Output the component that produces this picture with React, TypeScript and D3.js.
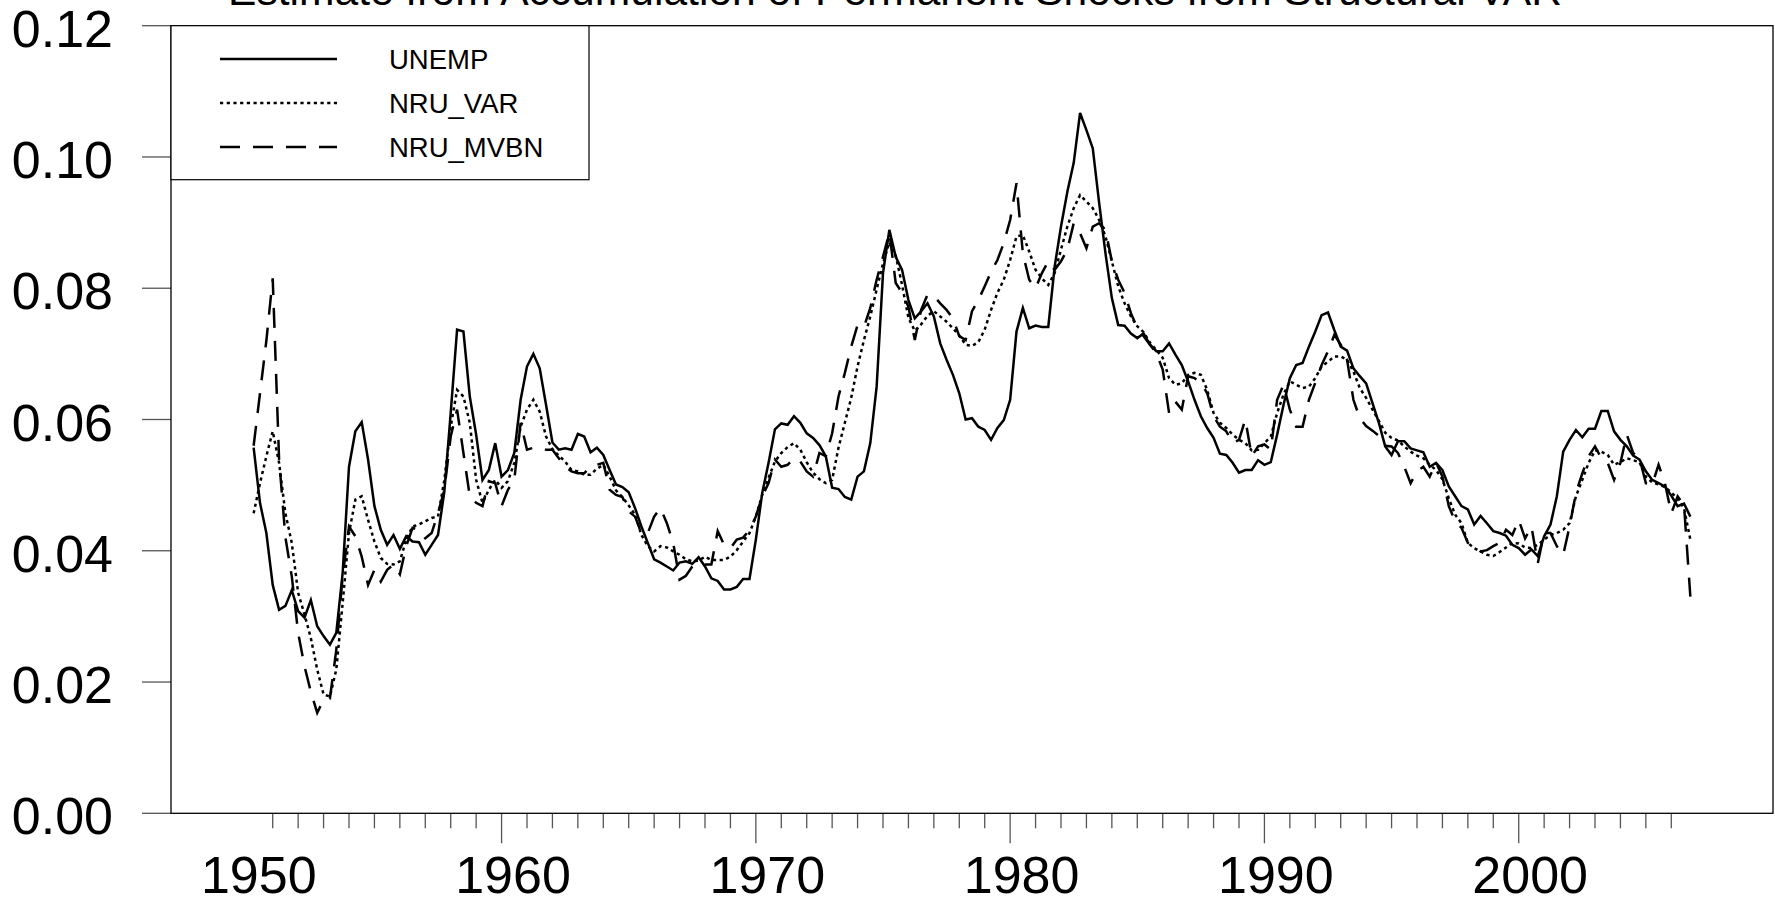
import React from 'react'
import * as d3 from 'd3'

const TITLE = 'Estimate from Accumulation of Permanent Shocks from Structural VAR'

// quarterly data, first observation 1950Q2
const FIRST_YEAR = 1950
const FIRST_QUARTER = 2

const Y_TICKS = [0, 0.02, 0.04, 0.06, 0.08, 0.1, 0.12]
const X_LABEL_YEARS = [1950, 1960, 1970, 1980, 1990, 2000]
const X_TICK_YEARS = d3.range(1951, 2007)

const unemp = [
  0.0557, 0.0473, 0.0427,
  0.0348, 0.0310, 0.0316, 0.0340,
  0.0308, 0.0298, 0.0325, 0.0285,
  0.0270, 0.0257, 0.0275, 0.0366,
  0.0528, 0.0582, 0.0596, 0.0539,
  0.0468, 0.0432, 0.0409, 0.0424,
  0.0403, 0.0422, 0.0414, 0.0413,
  0.0394, 0.0409, 0.0424, 0.0490,
  0.0610, 0.0737, 0.0734, 0.0635,
  0.0577, 0.0508, 0.0523, 0.0564,
  0.0513, 0.0523, 0.0549, 0.0630,
  0.0681, 0.0700, 0.0678, 0.0622,
  0.0565, 0.0554, 0.0556, 0.0554,
  0.0578, 0.0574, 0.0550, 0.0557,
  0.0546, 0.0523, 0.0501, 0.0497,
  0.0489, 0.0465, 0.0437, 0.0412,
  0.0387, 0.0382, 0.0376, 0.0370,
  0.0382, 0.0384, 0.0380, 0.0390,
  0.0376, 0.0358, 0.0354, 0.0341,
  0.0341, 0.0345, 0.0357, 0.0357,
  0.0417, 0.0488, 0.0534, 0.0585,
  0.0594, 0.0592, 0.0605, 0.0595,
  0.0579, 0.0572, 0.0561, 0.0544,
  0.0496, 0.0494, 0.0482, 0.0478,
  0.0513, 0.0521, 0.0564, 0.0650,
  0.0823, 0.0889, 0.0848, 0.0828,
  0.0782, 0.0754, 0.0765, 0.0777,
  0.0757, 0.0716, 0.0691, 0.0668,
  0.0640, 0.0600, 0.0602, 0.0589,
  0.0584, 0.0569, 0.0587, 0.0599,
  0.0630, 0.0734, 0.0770, 0.0739,
  0.0743, 0.0741, 0.0741, 0.0833,
  0.0894, 0.0947, 0.0991, 0.1067,
  0.1041, 0.1013, 0.0930, 0.0853,
  0.0785, 0.0744, 0.0743, 0.0731,
  0.0724, 0.0731, 0.0714, 0.0704,
  0.0704, 0.0716, 0.0699, 0.0683,
  0.0658, 0.0630, 0.0605, 0.0587,
  0.0572, 0.0548, 0.0546, 0.0534,
  0.0519, 0.0523, 0.0523, 0.0538,
  0.0531, 0.0535, 0.0577, 0.0622,
  0.0663, 0.0683, 0.0686, 0.0711,
  0.0734, 0.0759, 0.0763, 0.0736,
  0.0711, 0.0705, 0.0678, 0.0666,
  0.0655, 0.0625, 0.0595, 0.0559,
  0.0546, 0.0567, 0.0567, 0.0556,
  0.0553, 0.0550, 0.0528, 0.0534,
  0.0523, 0.0498, 0.0483, 0.0468,
  0.0463, 0.0440, 0.0453, 0.0442,
  0.0430, 0.0427, 0.0423, 0.0409,
  0.0404, 0.0394, 0.0402, 0.0392,
  0.0422, 0.0440, 0.0483, 0.0551,
  0.0569, 0.0584, 0.0573, 0.0586,
  0.0586, 0.0613, 0.0613, 0.0582,
  0.0569, 0.0559, 0.0545, 0.0539,
  0.0521, 0.0508, 0.0503, 0.0498,
  0.0484, 0.0468, 0.0472, 0.0452,
]

const nruVar = [
  0.0457, 0.0503, 0.0544,
  0.0582, 0.0534, 0.0457, 0.0412,
  0.0336, 0.0303, 0.0267, 0.0219,
  0.0181, 0.0178, 0.0219, 0.0320,
  0.0427, 0.0478, 0.0483, 0.0447,
  0.0414, 0.0389, 0.0380, 0.0379,
  0.0384, 0.0417, 0.0437, 0.0440,
  0.0445, 0.0450, 0.0452, 0.0508,
  0.0589, 0.0645, 0.0635, 0.0595,
  0.0508, 0.0473, 0.0493, 0.0508,
  0.0496, 0.0506, 0.0534, 0.0589,
  0.0615, 0.0630, 0.0612, 0.0574,
  0.0555, 0.0545, 0.0536, 0.0523,
  0.0521, 0.0516, 0.0516, 0.0525,
  0.0531, 0.0513, 0.0492, 0.0482,
  0.0469, 0.0455, 0.0424, 0.0407,
  0.0399, 0.0407, 0.0405, 0.0399,
  0.0394, 0.0387, 0.0384, 0.0385,
  0.0391, 0.0386, 0.0386, 0.0386,
  0.0391, 0.0401, 0.0414, 0.0427,
  0.0452, 0.0485, 0.0511, 0.0536,
  0.0549, 0.0558, 0.0564, 0.0554,
  0.0535, 0.0519, 0.0509, 0.0503,
  0.0508, 0.0557, 0.0595, 0.0633,
  0.0681, 0.0721, 0.0757, 0.0798,
  0.0838, 0.0870, 0.0850, 0.0805,
  0.0755, 0.0735, 0.0745, 0.0758,
  0.0765, 0.0757, 0.0749, 0.0739,
  0.0728, 0.0714, 0.0712, 0.0718,
  0.0737, 0.0767, 0.0793, 0.0813,
  0.0843, 0.0879, 0.0881, 0.0856,
  0.0828, 0.0815, 0.0805, 0.0823,
  0.0859, 0.0894, 0.0922, 0.0942,
  0.0932, 0.0922, 0.0904, 0.0879,
  0.0841, 0.0803, 0.0777, 0.0757,
  0.0742, 0.0733, 0.0717, 0.0706,
  0.0694, 0.0663, 0.0653, 0.0655,
  0.0668, 0.0671, 0.0668, 0.0645,
  0.0610, 0.0595, 0.0587, 0.0577,
  0.0569, 0.0564, 0.0553, 0.0554,
  0.0564, 0.0574, 0.0610, 0.0638,
  0.0658, 0.0653, 0.0648, 0.0650,
  0.0663, 0.0681, 0.0688, 0.0696,
  0.0696, 0.0691, 0.0673, 0.0648,
  0.0633, 0.0615, 0.0598, 0.0580,
  0.0572, 0.0568, 0.0559, 0.0551,
  0.0545, 0.0541, 0.0531, 0.0523,
  0.0509, 0.0480, 0.0455, 0.0442,
  0.0412, 0.0404, 0.0399, 0.0394,
  0.0392, 0.0398, 0.0405, 0.0412,
  0.0411, 0.0405, 0.0404, 0.0409,
  0.0417, 0.0424, 0.0427, 0.0432,
  0.0442, 0.0483, 0.0508, 0.0534,
  0.0553, 0.0551, 0.0546, 0.0531,
  0.0535, 0.0541, 0.0538, 0.0535,
  0.0513, 0.0504, 0.0501, 0.0497,
  0.0489, 0.0479, 0.0465, 0.0417,
]

const nruMvbn = [
  0.0560, 0.0640, 0.0720,
  0.0815, 0.0540, 0.0420, 0.0361,
  0.0275, 0.0224, 0.0185, 0.0153,
  0.0173, 0.0175, 0.0249, 0.0361,
  0.0437, 0.0422, 0.0391, 0.0348,
  0.0371, 0.0353, 0.0371, 0.0379,
  0.0364, 0.0407, 0.0435, 0.0432,
  0.0419, 0.0427, 0.0457, 0.0493,
  0.0574, 0.0615, 0.0549, 0.0483,
  0.0473, 0.0468, 0.0506, 0.0503,
  0.0468, 0.0493, 0.0508, 0.0595,
  0.0554, 0.0557, 0.0557, 0.0554,
  0.0554, 0.0541, 0.0528, 0.0521,
  0.0518, 0.0518, 0.0528, 0.0531,
  0.0534, 0.0493, 0.0485, 0.0482,
  0.0460, 0.0452, 0.0427, 0.0427,
  0.0452, 0.0465, 0.0442, 0.0412,
  0.0356, 0.0362, 0.0376, 0.0380,
  0.0379, 0.0379, 0.0430, 0.0409,
  0.0404, 0.0417, 0.0420, 0.0432,
  0.0452, 0.0483, 0.0503, 0.0539,
  0.0528, 0.0531, 0.0541, 0.0536,
  0.0521, 0.0513, 0.0549, 0.0544,
  0.0579, 0.0635, 0.0671, 0.0711,
  0.0744, 0.0741, 0.0770, 0.0813,
  0.0848, 0.0885, 0.0808, 0.0793,
  0.0772, 0.0721, 0.0767, 0.0790,
  0.0788, 0.0777, 0.0767, 0.0754,
  0.0727, 0.0721, 0.0765, 0.0782,
  0.0803, 0.0825, 0.0843, 0.0869,
  0.0904, 0.0960, 0.0853, 0.0813,
  0.0800, 0.0823, 0.0841, 0.0828,
  0.0841, 0.0859, 0.0899, 0.0884,
  0.0861, 0.0894, 0.0899, 0.0889,
  0.0841, 0.0813, 0.0793, 0.0762,
  0.0739, 0.0727, 0.0714, 0.0701,
  0.0676, 0.0610, 0.0627, 0.0615,
  0.0666, 0.0663, 0.0656, 0.0640,
  0.0605, 0.0589, 0.0582, 0.0564,
  0.0569, 0.0600, 0.0544, 0.0559,
  0.0562, 0.0554, 0.0630, 0.0653,
  0.0615, 0.0589, 0.0589, 0.0630,
  0.0656, 0.0683, 0.0704, 0.0729,
  0.0714, 0.0691, 0.0630, 0.0602,
  0.0590, 0.0583, 0.0575, 0.0560,
  0.0559, 0.0549, 0.0528, 0.0503,
  0.0521, 0.0528, 0.0513, 0.0534,
  0.0513, 0.0468, 0.0445, 0.0435,
  0.0412, 0.0407, 0.0399, 0.0401,
  0.0407, 0.0412, 0.0432, 0.0424,
  0.0447, 0.0419, 0.0437, 0.0381,
  0.0427, 0.0427, 0.0407, 0.0394,
  0.0437, 0.0488, 0.0518, 0.0544,
  0.0559, 0.0541, 0.0534, 0.0508,
  0.0534, 0.0577, 0.0549, 0.0541,
  0.0503, 0.0501, 0.0531, 0.0503,
  0.0457, 0.0483, 0.0470, 0.0330,
]

const series = [
  { name: 'UNEMP', values: unemp, dash: undefined },
  { name: 'NRU_VAR', values: nruVar, dash: '3.2 3.5' },
  { name: 'NRU_MVBN', values: nruMvbn, dash: '20 13' },
]

const FONT = '"Liberation Sans", Arial, Helvetica, sans-serif'

const quarterDate = (i: number) => FIRST_YEAR + (FIRST_QUARTER - 1 + i) / 4

export default function App() {
  const W = 1775
  const H = 900
  const frame = { left: 171, right: 1773, top: 25.7, bottom: 813.3 }

  const x = d3.scaleLinear().domain([1947, 2010]).range([frame.left, frame.right])
  const y = d3.scaleLinear().domain([0, 0.12]).range([frame.bottom, frame.top])

  const line = d3.line<number>()
    .x((d, i) => x(quarterDate(i)))
    .y(d => y(d))

  // legend geometry
  const legend = { x0: frame.left, y0: frame.top, w: 418, h: 154 }
  const legendRows = [59, 103, 147]

  return (
    <div style={{ position: 'absolute', left: 0, top: 0 }}>
      <svg width={W} height={H} style={{ display: 'block', background: '#fff' }} fontFamily={FONT}>
        <rect x={0} y={0} width={W} height={H} fill="#fff" />

        {/* title, cut off at the top of the page as in the source */}
        <text x={228} y={5} fontSize={42} textLength={1334} lengthAdjust="spacingAndGlyphs" fill="#000">
          {TITLE}
        </text>

        {/* y ticks + labels */}
        {Y_TICKS.map(t => (
          <g key={`y-${t}`}>
            <line x1={frame.left - 29} x2={frame.left} y1={y(t)} y2={y(t)} stroke="#555" strokeWidth={1.3} />
            <text x={113} y={y(t) + 21} fontSize={52} textAnchor="end" fill="#000">
              {t.toFixed(2)}
            </text>
          </g>
        ))}

        {/* x ticks */}
        {X_TICK_YEARS.map(yr => (
          <line key={`xt-${yr}`} x1={x(yr)} x2={x(yr)} y1={frame.bottom}
            y2={frame.bottom + (yr % 10 === 0 ? 30 : 15)} stroke="#555" strokeWidth={1.3} />
        ))}
        {X_LABEL_YEARS.map(yr => (
          <text key={`xl-${yr}`} x={x(yr + 0.45)} y={893} fontSize={52} textAnchor="middle" fill="#000">
            {yr}
          </text>
        ))}

        {/* frame */}
        <rect x={frame.left} y={frame.top} width={frame.right - frame.left} height={frame.bottom - frame.top}
          fill="none" stroke="#000" strokeWidth={1.3} />

        {/* series */}
        {series.map(s => (
          <path key={s.name} d={line(s.values) || ''} fill="none" stroke="#000" strokeWidth={2.5}
            strokeDasharray={s.dash} strokeLinejoin="miter" />
        ))}

        {/* legend */}
        <rect x={legend.x0} y={legend.y0} width={legend.w} height={legend.h} fill="#fff" stroke="#000" strokeWidth={1.2} />
        {series.map((s, i) => (
          <g key={`lg-${s.name}`}>
            <line x1={220} x2={337} y1={legendRows[i]} y2={legendRows[i]} stroke="#000" strokeWidth={2.5}
              strokeDasharray={s.dash} />
            <text x={389} y={legendRows[i] + 9.5} fontSize={27.5} fill="#000">{s.name}</text>
          </g>
        ))}
      </svg>
    </div>
  )
}
